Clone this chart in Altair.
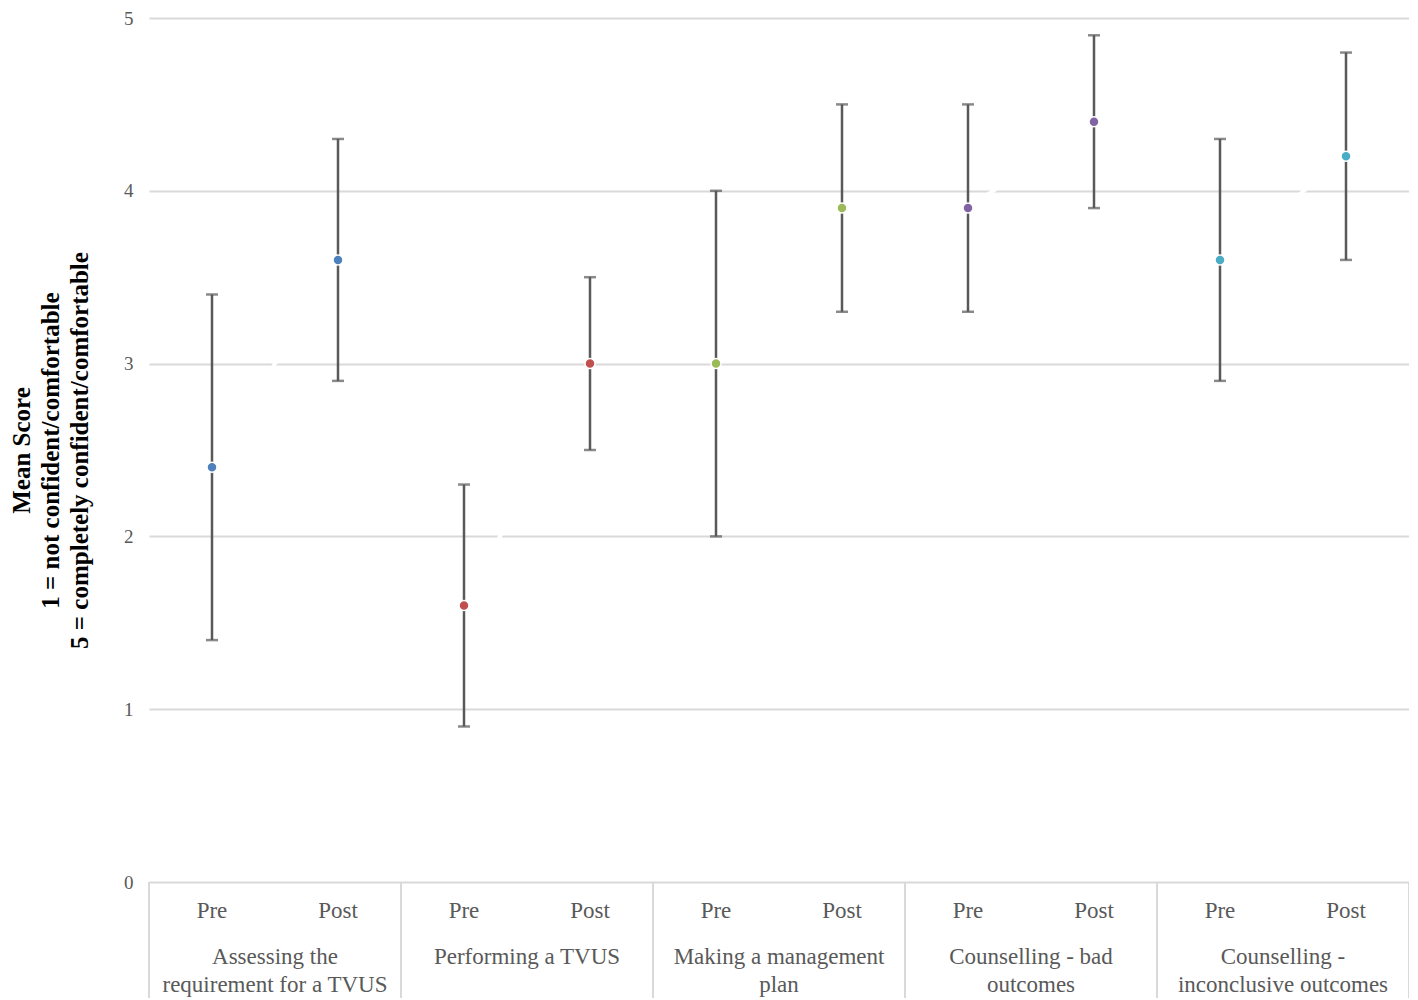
import altair as alt
import pandas as pd

groups = [
    "Assessing the\nrequirement for a TVUS",
    "Performing a TVUS",
    "Making a management\nplan",
    "Counselling - bad\noutcomes",
    "Counselling -\ninconclusive outcomes",
]
phases = ["Pre", "Post"]
colors = ["#4f81bd", "#c0504d", "#9bbb59", "#8064a2", "#4bacc6"]
pre_mean = [2.4, 1.6, 3.0, 3.9, 3.6]
pre_low = [1.4, 0.9, 2.0, 3.3, 2.9]
pre_high = [3.4, 2.3, 4.0, 4.5, 4.3]
post_mean = [3.6, 3.0, 3.9, 4.4, 4.2]
post_low = [2.9, 2.5, 3.3, 3.9, 3.6]
post_high = [4.3, 3.5, 4.5, 4.9, 4.8]
y_ticks = [0, 1, 2, 3, 4, 5]

W = 1260
H = 864
SERIF = "Liberation Serif"
GRAY = "#595959"

rows = []
for g, name in enumerate(groups):
    for p, phase in enumerate(phases):
        m = [pre_mean, post_mean][p][g]
        lo = [pre_low, post_low][p][g]
        hi = [pre_high, post_high][p][g]
        rows.append(dict(group=name, gi=g, phase=phase, pos=2 * g + p + 0.5,
                         mean=m, low=lo, high=hi))
df = pd.DataFrame(rows)

bounds = pd.DataFrame({"b": [2 * i for i in range(len(groups) + 1)]})
glabels = pd.DataFrame({"group": groups, "c": [2 * i + 1 for i in range(len(groups))]})

xs = alt.Scale(domain=[0, 2 * len(groups)], nice=False, zero=False)
ys = alt.Scale(domain=[0, 5], nice=False, zero=True)
color = alt.Color("gi:N", scale=alt.Scale(domain=list(range(len(groups))), range=colors), legend=None)

base = alt.Chart(df)

grid_layer = base.mark_line(strokeWidth=4, color="white").encode(
    x=alt.X("pos:Q", scale=xs, axis=None),
    y=alt.Y("mean:Q", scale=ys, axis=alt.Axis(
        values=y_ticks, format="d", grid=True, ticks=False, domain=False,
        gridColor="#d9d9d9", gridWidth=2,
        labelFont=SERIF, labelFontSize=19, labelColor=GRAY, labelPadding=16,
        title=["Mean Score", "1 = not confident/comfortable", "5 = completely confident/comfortable"],
        titleFont=SERIF, titleFontSize=25, titleFontWeight="bold", titleColor="black",
        titleLineHeight=29, titlePadding=31,
    )),
    detail="gi:N",
)

err = base.mark_rule(color=GRAY, strokeWidth=2.5).encode(
    x=alt.X("pos:Q", scale=xs, axis=None),
    y=alt.Y("low:Q", scale=ys),
    y2="high:Q",
)
cap_lo = base.mark_tick(color=GRAY, thickness=2.5, size=12, orient="horizontal").encode(
    x=alt.X("pos:Q", scale=xs, axis=None),
    y=alt.Y("low:Q", scale=ys),
)
cap_hi = base.mark_tick(color=GRAY, thickness=2.5, size=12, orient="horizontal").encode(
    x=alt.X("pos:Q", scale=xs, axis=None),
    y=alt.Y("high:Q", scale=ys),
)
pts = base.mark_circle(size=100, opacity=1, stroke="white", strokeWidth=1.5).encode(
    x=alt.X("pos:Q", scale=xs, axis=None),
    y=alt.Y("mean:Q", scale=ys),
    color=color,
)

seps = alt.Chart(bounds).mark_rule(color="#d9d9d9", strokeWidth=2).encode(
    x=alt.X("b:Q", scale=xs, axis=None),
    y=alt.value(H),
    y2=alt.value(H + 120),
)

phase_txt = base.mark_text(font=SERIF, fontSize=23, color=GRAY, baseline="middle", align="center").encode(
    x=alt.X("pos:Q", scale=xs, axis=None),
    y=alt.value(H + 29),
    text="phase:N",
)
group_txt = alt.Chart(glabels).mark_text(font=SERIF, fontSize=23, color=GRAY, baseline="top",
                                          align="center", lineBreak="\n", lineHeight=28).encode(
    x=alt.X("c:Q", scale=xs, axis=None),
    y=alt.value(H + 64),
    text="group:N",
)

chart = alt.layer(grid_layer, seps, err, cap_lo, cap_hi, pts, phase_txt, group_txt).properties(
    width=W, height=H,
    autosize=alt.AutoSizeParams(type="none"),
    padding={"left": 141, "top": 10, "right": 0, "bottom": 116},
).configure_view(stroke=None)

chart.save("out.html", embed_options={"renderer": "svg", "actions": False})
